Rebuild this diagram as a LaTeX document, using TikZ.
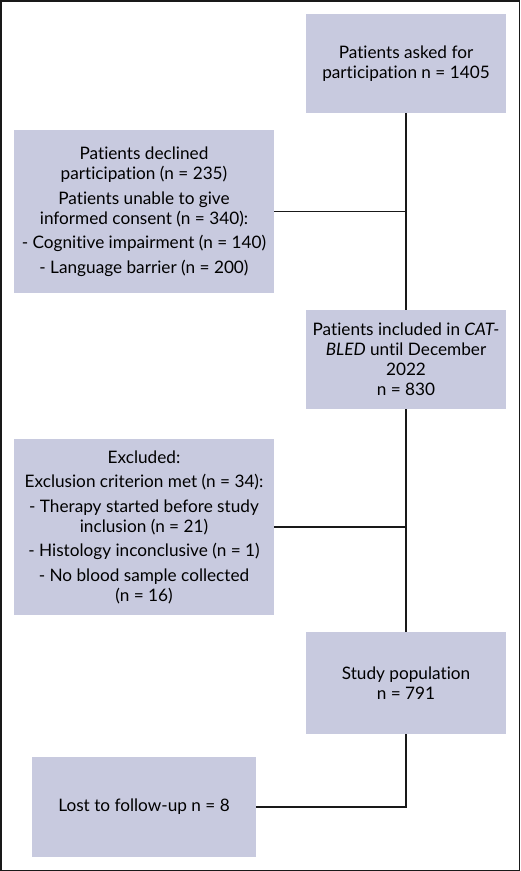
\documentclass[tikz,border=0pt]{standalone}
\usepackage{fontspec}
\setmainfont{Lato}[RawFeature={-liga;-dlig;-clig}]
\usetikzlibrary{calc}
\definecolor{boxfill}{RGB}{200,202,223}
\definecolor{linegray}{RGB}{25,25,25}
\tikzset{flowbox/.style={fill=boxfill,align=center,inner sep=0pt,font=\fontsize{17.2}{20}\selectfont},
	link/.style={draw=linegray,line width=1.8pt}}

\begin{document}
\begin{tikzpicture}[x=1pt,y=-1pt]
	\useasboundingbox (0,0) rectangle (520,871);
	\draw[linegray,line width=1.5pt] (.75,.75) rectangle (519.25,870.25);
	% right column
	\node[flowbox,minimum width=200pt,minimum height=99pt] (asked) at (406,63.5){Patients asked for\\participation n = 1405};
	\node[flowbox,minimum width=200pt,minimum height=99pt] (incl) at (406,359.5){Patients included in \textit{CAT-}\\\textit{BLED} until December\\2022\\n = 830};
	\node[flowbox,minimum width=200pt,minimum height=102pt] (study) at (406,683){Study population\\n = 791};
	% left column
	\node[flowbox,minimum width=260pt,minimum height=163pt] (declined) at (144,211.5){Patients declined\\participation (n = 235)\\[4.5pt]Patients unable to give\\informed consent (n = 340):\\[4.5pt]- Cognitive impairment (n = 140)\\[4.5pt]- Language barrier (n = 200)};
	\node[flowbox,minimum width=260pt,minimum height=176pt] (excl) at (144,527){Excluded:\\[4.5pt]Exclusion criterion met (n = 34):\\[4.5pt]- Therapy started before study\\inclusion (n = 21)\\[4.5pt]- Histology inconclusive (n = 1)\\[4.5pt]- No blood sample collected\\(n = 16)};
	\node[flowbox,minimum width=224pt,minimum height=100pt] (lost) at (144,807){Lost to follow-up n = 8};
	% connectors
	\draw[link] (asked)--(incl);
	\draw[link] (declined.east)--(declined.east -| asked.south);
	\draw[link] (incl)--(study);
	\draw[link] (excl.east)--(excl.east -| incl.south);
	\draw[link] (study.south) |- (lost.east);
\end{tikzpicture}
\end{document}
